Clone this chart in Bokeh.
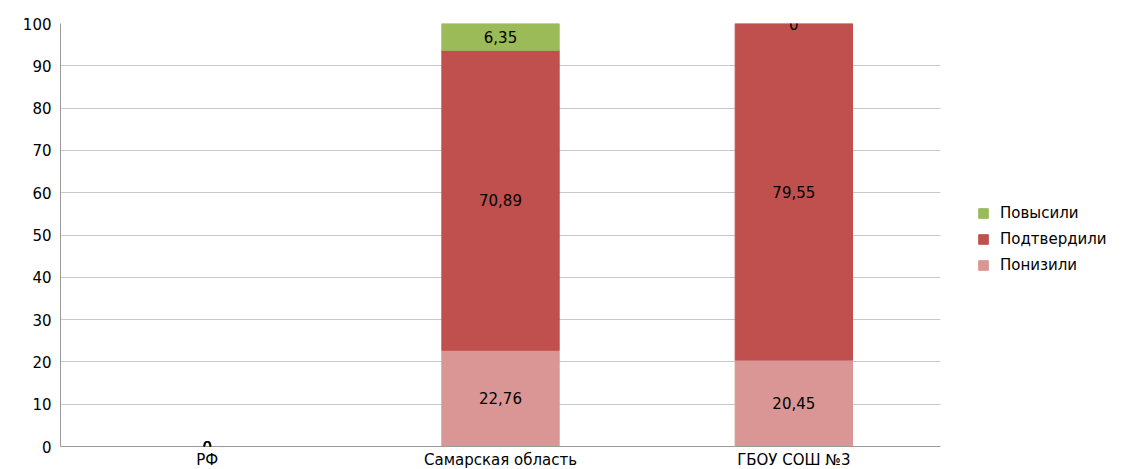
from bokeh.plotting import figure
from bokeh.models import ColumnDataSource, LabelSet, Legend, LegendItem, FactorRange
from bokeh.core.properties import value
from bokeh.embed import file_html
from bokeh.resources import INLINE

categories = ["РФ", "Самарская область", "ГБОУ СОШ №3"]
ponizili = [0, 22.76, 20.45]
podtverdili = [0, 70.89, 79.55]
povysili = [0, 6.35, 0]
series_names = ["Понизили", "Подтвердили", "Повысили"]
colors = ["#D99694", "#C0504D", "#9BBB59"]

FONT = "DejaVu Sans"

p = figure(x_range=FactorRange(*categories), y_range=(0, 100),
           frame_width=880, frame_height=423, output_backend="svg", toolbar_location=None,
           min_border_left=60, min_border_right=195, min_border_top=23, min_border_bottom=19)
p.outline_line_color = None
p.background_fill_color = "white"
p.border_fill_color = "white"

src = ColumnDataSource(dict(cat=categories, ponizili=ponizili, podtverdili=podtverdili, povysili=povysili))
renderers = p.vbar_stack(["ponizili", "podtverdili", "povysili"], x="cat", width=0.4, source=src,
                         color=colors, line_width=1)

# labels
bottoms = [0, 0, 0]
for key, vals in zip(["ponizili", "podtverdili", "povysili"], [ponizili, podtverdili, povysili]):
    mids = [b + v / 2 for b, v in zip(bottoms, vals)]
    texts = [("%g" % v).replace(".", ",") if v != int(v) else str(int(v)) for v in vals]
    lsrc = ColumnDataSource(dict(x=categories, y=mids, t=texts))
    p.add_layout(LabelSet(x="x", y="y", text="t", source=lsrc, text_align="center",
                          text_baseline="middle", text_font=value(FONT), text_font_size=value("15px"),
                          text_color="black"))
    bottoms = [b + v for b, v in zip(bottoms, vals)]

p.xgrid.grid_line_color = None
p.ygrid.grid_line_color = "#C8C8C8"
p.ygrid.grid_line_width = 1

p.yaxis.ticker = list(range(0, 101, 10))
p.yaxis.major_tick_line_color = None
p.yaxis.minor_tick_line_color = None
p.yaxis.major_tick_out = 0
p.yaxis.major_label_standoff = 9
p.yaxis.axis_line_color = "#9A9A9A"
p.yaxis.major_label_text_font = FONT
p.yaxis.major_label_text_font_size = "15px"
p.yaxis.major_label_text_color = "black"

p.xaxis.major_tick_line_color = None
p.xaxis.minor_tick_line_color = None
p.xaxis.major_tick_out = 0
p.xaxis.major_label_standoff = 4
p.xaxis.axis_line_color = "#9A9A9A"
p.xaxis.major_label_text_font = FONT
p.xaxis.major_label_text_font_size = "15px"
p.xaxis.major_label_text_color = "black"

items = [LegendItem(label=series_names[i], renderers=[renderers[i]]) for i in [2, 1, 0]]
legend = Legend(items=items, location=(37, 172), orientation="vertical",
                label_text_font=FONT, label_text_font_size="15px", label_text_color="black",
                glyph_width=12, glyph_height=12, label_height=16, spacing=8,
                border_line_color=None, background_fill_alpha=0, padding=0, margin=0,
                label_standoff=11)
p.add_layout(legend, "right")

open("out.html", "w").write(file_html(p, INLINE))
